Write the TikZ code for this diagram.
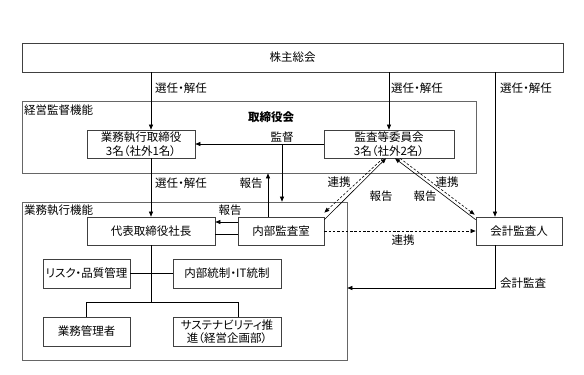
\documentclass[tikz,border=0pt]{standalone}
\usepackage{fontspec}
\setmainfont{Noto Sans CJK JP}[RawFeature=+palt]
\usetikzlibrary{arrows.meta}

\begin{document}
\begin{tikzpicture}[x=1pt, y=-1pt,
		font=\fontsize{11.5}{13.5}\selectfont,
		box/.style={draw=black!75, line width=0.7pt, fill=white, minimum width=#1, minimum height=28pt, inner sep=1pt, align=center},
		grp/.style={draw=black!60, line width=0.7pt, inner sep=0pt},
		arr/.style={-{Triangle[length=5pt,width=4pt]}, line width=0.6pt},
		link/.style={arr, dash pattern=on 2.5pt off 1.8pt},
		lbl/.style={inner sep=1pt}]
	\useasboundingbox (0,0) rectangle (584,375);

	% 株主総会
	\node[box=541pt, minimum height=29pt] (soukai) at (292.5,57.5) {株主総会};

	% 枠
	\node[grp, minimum width=454pt, minimum height=72pt] (keiei) at (249,137) {};
	\node[grp, minimum width=325pt, minimum height=158pt] (gyoumu) at (184.5,281) {};
	\node[lbl, anchor=west] (keieilbl) at (23,110) {経営監督機能};
	\node[lbl, anchor=west] (gyoumulbl) at (23,210) {業務執行機能};
	\node[lbl, font=\fontsize{11.5}{13.5}\selectfont\bfseries] (torikai) at (271,117) {取締役会};

	% 箱
	\node[box=108pt] (torishimari) at (141,144) {業務執行取締役\\3名（社外1名）};
	\node[box=130pt] (kansa) at (389,144) {監査等委員会\\3名（社外2名）};
	\node[box=128pt] (shacho) at (151,231) {代表取締役社長};
	\node[box=86pt] (naibu) at (281,231) {内部監査室};
	\node[box=86pt] (kaikei) at (519,231) {会計監査人};
	\node[box=87pt, minimum height=29pt] (risk) at (86.5,273.5) {リスク・品質管理};
	\node[box=108pt, minimum height=29pt] (tousei) at (227,273.5) {内部統制・IT統制};
	\node[box=87pt, minimum height=29pt] (kanrisha) at (86.5,331.5) {業務管理者};
	\node[box=108pt, minimum height=29pt] (susta) at (227,331.5) {サステナビリティ推\\進（経営企画部）};

	% 選任・解任
	\draw[arr] (soukai.south -| shacho) -- (torishimari.north -| shacho);
	\draw[arr] (torishimari.south -| shacho) -- (shacho.north);
	\draw[arr] (soukai.south -| kansa) -- (kansa.north);
	\draw[arr] ([xshift=-24pt]kaikei.north |- soukai.south) -- ([xshift=-24pt]kaikei.north);
	\node[lbl] (sen1) at (181,88) {選任・解任};
	\node[lbl] (sen2) at (181,183) {選任・解任};
	\node[lbl] (sen3) at (417,88) {選任・解任};
	\node[lbl] (sen4) at (526,88) {選任・解任};

	% 監督
	\coordinate (kantoku) at (282,144);
	\draw[arr] (kansa.west) -- (torishimari.east);
	\draw[arr] (kantoku) -- (kantoku |- gyoumu.north);
	\node[lbl, above] (kantokulbl) at (kantoku) {監督};

	% 報告
	\draw[arr] ([xshift=-13pt]naibu.north) -- ([xshift=-13pt]naibu.north |- keiei.south);
	\node[lbl] (hou1) at (251,183) {報告};
	\draw[arr] ([yshift=9pt]naibu.west) -- ([yshift=9pt]shacho.east);
	\draw ([yshift=-3pt]naibu.west) -- ([yshift=-3pt]shacho.east);
	\node[lbl] (hou2) at (230,210) {報告};

	% 組織
	\coordinate (branch) at (151,302);
	\draw (shacho.south) -- (branch);
	\draw (risk.east) -- (tousei.west);
	\draw (kanrisha.north) |- ([xshift=11pt]susta.north |- branch) -- ([xshift=11pt]susta.north);

	% 監査等委員会との連携
	\draw[arr] ([yshift=-3pt]naibu.north east) -- ([xshift=-3pt]kansa.south);
	\draw[link] ([xshift=-6pt]kansa.south) -- ([yshift=4pt]naibu.north east);
	\draw[arr] ([yshift=-3pt]kaikei.north west) -- ([xshift=6pt]kansa.south);
	\draw[link] ([xshift=11pt]kansa.south) -- ([xshift=-1pt,yshift=2pt]kaikei.north west);
	\node[lbl] (ren1) at (339,182) {連携};
	\node[lbl] (hou3) at (381,196) {報告};
	\node[lbl] (hou4) at (425,196) {報告};
	\node[lbl] (ren2) at (447,182) {連携};

	% 会計監査人
	\draw[link] (naibu.east) -- (kaikei.west);
	\node[lbl] (ren3) at (403,240) {連携};
	\draw[arr] ([xshift=-24pt]kaikei.south) |- (gyoumu.east |- 0,288);
	\node[lbl] (kaikeilbl) at (523,283) {会計監査};
\end{tikzpicture}
\end{document}
